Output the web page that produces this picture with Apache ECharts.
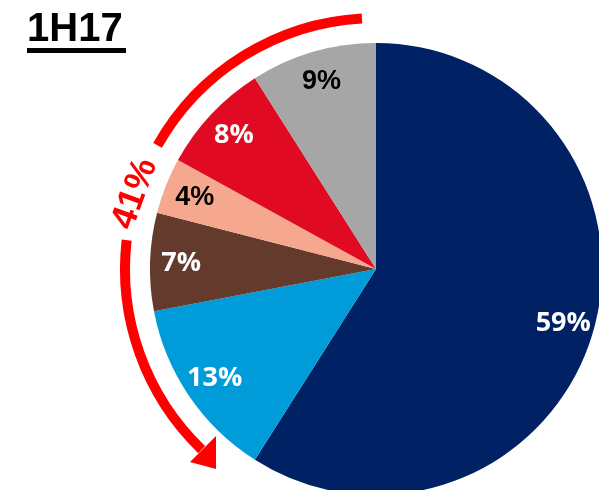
<!DOCTYPE html>
<html><head><meta charset="utf-8">
<script src="https://cdn.jsdelivr.net/npm/echarts@6/dist/echarts.min.js"></script>
<style>html,body{margin:0;padding:0;background:#fff}#c{width:599px;height:490px}</style>
</head><body><div id="c"></div>
<script>
var categories = ['A','B','C','D','E','F'];
var values = [59, 13, 7, 4, 8, 9];
var colors = ['#002163','#009CD9','#633A2B','#F5A88D','#E10A23','#A6A6A6'];
var labelColors = ['#fff','#fff','#fff','#000','#fff','#000'];
var labelFonts = ['Open Sans','Open Sans','Open Sans','Liberation Sans','Open Sans','Liberation Sans'];
var title = '1H17';
var arcLabel = '41%';

var cx = 376, cy = 269, R = 226, arcR = 251;
var d2r = Math.PI/180;
var chart = echarts.init(document.getElementById('c'), null, {renderer:'canvas'});
var dataMain = categories.map(function(c,i){ return {name:c, value:values[i], itemStyle:{color:colors[i]}}; });
var dataLbl = categories.map(function(c,i){ return {name:c, value:values[i],
  label:{color:labelColors[i], fontFamily:labelFonts[i], padding:[labelFonts[i]==='Open Sans'?9:5,0,0,0]}}; });
chart.setOption({
  animation:false,
  series:[
    {type:'pie', center:[cx,cy], radius:[0,R], startAngle:90, clockwise:true,
     label:{show:false}, labelLine:{show:false}, silent:true, data:dataMain},
    {type:'pie', center:[cx,cy], radius:[158,R], startAngle:90, clockwise:true, silent:true,
     itemStyle:{color:'rgba(0,0,0,0)'},
     label:{show:true, position:'inside', formatter:'{c}%', fontSize:27, fontWeight:'bold'},
     labelLine:{show:false}, data:dataLbl}
  ],
  graphic:[
    {type:'text', left:27, top:10, style:{text:title, font:'bold 40px "Liberation Sans", Arial', fill:'#000'}},
    {type:'rect', shape:{x:27, y:48, width:99, height:5}, style:{fill:'#000'}},
    {type:'arc', shape:{cx:cx, cy:cy, r:arcR, startAngle:209.5*d2r, endAngle:266.8*d2r, clockwise:true},
     style:{stroke:'#FF0000', lineWidth:10, fill:null}},
    {type:'arc', shape:{cx:cx, cy:cy, r:arcR, startAngle:134*d2r, endAngle:186.6*d2r, clockwise:true},
     style:{stroke:'#FF0000', lineWidth:10, fill:null}},
    {type:'polygon', shape:{points:[[190,462],[216,436],[216,469]]}, style:{fill:'#FF0000'}},
    {type:'text', x:135, y:194, rotation:70*d2r,
     style:{text:arcLabel, font:'bold 36px "Liberation Sans", Arial', fill:'#FF0000', align:'center', verticalAlign:'middle'}}
  ]
});
</script></body></html>
